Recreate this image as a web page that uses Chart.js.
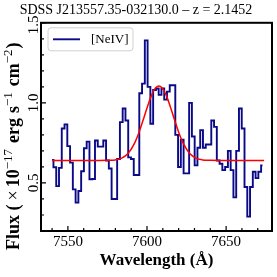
<!DOCTYPE html>
<html>
<head>
<meta charset="utf-8">
<script src="https://cdn.jsdelivr.net/npm/chart.js@4.4.0/dist/chart.umd.min.js"></script>
<style>
  html, body { margin: 0; padding: 0; background: #fff; }
  #wrap { width: 277px; height: 277px; }
</style>
</head>
<body>
<div id="wrap"><canvas id="myChart" width="277" height="277"></canvas></div>
<script>
// spectrum bins (Angstrom) and flux (1e-17 erg/s/cm2)
const wavelength = [
  7540.00, 7541.75, 7543.50, 7545.25, 7547.00, 7548.75, 7550.50, 7552.25, 7554.00, 7555.75,
  7557.50, 7559.25, 7561.00, 7562.75, 7564.50, 7566.25, 7568.00, 7569.75, 7571.50, 7573.25,
  7575.00, 7576.75, 7578.50, 7580.25, 7582.00, 7583.75, 7585.50, 7587.25, 7589.00, 7590.75,
  7592.50, 7594.25, 7596.00, 7597.75, 7599.50, 7601.25, 7603.00, 7604.75, 7606.50, 7608.25,
  7610.00, 7611.75, 7613.50, 7615.25, 7617.00, 7618.75, 7620.50, 7622.25, 7624.00, 7625.75,
  7627.50, 7629.25, 7631.00, 7632.75, 7634.50, 7636.25, 7638.00, 7639.75, 7641.50, 7643.25,
  7645.00, 7646.75, 7648.50, 7650.25, 7652.00, 7653.75, 7655.50, 7657.25, 7659.00, 7660.75,
  7662.50, 7664.25, 7666.00, 7667.75, 7669.50, 7671.25, 7673.00
];
const flux = [
  0.644, 0.598, 0.48, 0.594, 0.84, 0.866, 0.73, 0.627, 0.46, 0.377,
  0.45, 0.573, 0.717, 0.758, 0.523, 0.525, 0.765, 0.727, 0.727, 0.765,
  0.64, 0.59, 0.40, 0.40, 0.65, 0.88, 0.965, 0.89, 0.66, 0.65,
  0.55, 0.55, 1.06, 1.12, 1.39, 1.10, 0.87, 1.08, 1.09, 1.05,
  1.09, 1.02, 1.07, 1.11, 1.11, 0.80, 0.60, 0.77, 0.56, 0.56,
  1.00, 0.79, 0.61, 0.72, 0.83, 0.72, 0.74, 0.74, 0.89, 0.85,
  0.64, 0.62, 0.58, 0.60, 0.70, 0.58, 0.41, 0.70, 0.965, 0.84,
  0.475, 0.29, 0.475, 0.57, 0.53, 0.57, 0.61
];

// gaussian fit curve
const fitWave = [7540, 7560, 7570, 7575, 7580, 7584, 7588, 7592, 7595, 7598, 7601, 7602.5, 7604, 7605.5,
  7607.5, 7609.5, 7611, 7612.5, 7614, 7617, 7620, 7623, 7627, 7631, 7635, 7640, 7650, 7674];
const fitFlux = [0.640, 0.640, 0.640, 0.641, 0.644, 0.655, 0.684, 0.746, 0.817, 0.906, 0.998, 1.039, 1.071, 1.094,
  1.105, 1.094, 1.071, 1.039, 0.998, 0.906, 0.817, 0.746, 0.684, 0.655, 0.644, 0.641, 0.640, 0.640];

const xTickLabels = [7550, 7600, 7650];
const yTickLabels = ['0.5', '1.0', '1.5'];

const serif = "'Liberation Serif', 'Times New Roman', serif";
Chart.defaults.font.family = serif;
Chart.defaults.color = '#000';

const isLabelled = (list, v) => list.some(t => Math.abs(Number(t) - v) < 1e-6);

// y axis title with raised exponents, like mathtext
const yTitle = {
  id: 'yTitle',
  afterDraw(chart) {
    const { ctx } = chart;
    const big = 'bold 18px ' + serif;
    const sup = '13px ' + serif;
    const parts = [
      ['Flux (', big, 0], ['\u00d7', '18px ' + serif, 0], ['10', big, 0], ['\u221217', sup, -7],
      ['erg', big, 0], ['s', big, 0], ['\u22121', sup, -7], ['cm', big, 0], ['\u22122', sup, -7], [')', big, 0]
    ];
    const gaps = [0, 4, 3, 0, 6, 5, 0, 6, 0, 1];
    ctx.save();
    ctx.fillStyle = '#000';
    ctx.textBaseline = 'alphabetic';
    ctx.textAlign = 'left';
    ctx.translate(19, 250);
    ctx.rotate(-Math.PI / 2);
    let pos = 0;
    parts.forEach(([txt, font, dy], i) => {
      ctx.font = font;
      pos += gaps[i];
      ctx.fillText(txt, pos, dy);
      pos += ctx.measureText(txt).width;
    });
    ctx.restore();
  }
};

// matplotlib-ish frame with inward ticks, rotated y labels
const frameTicks = {
  id: 'frameTicks',
  afterDraw(chart) {
    const { ctx, chartArea: a, scales: { x, y } } = chart;
    ctx.save();
    ctx.strokeStyle = '#000';
    ctx.lineWidth = 1.2;
    ctx.beginPath();
    x.ticks.forEach(t => {
      const px = x.getPixelForValue(t.value);
      const len = isLabelled(xTickLabels, t.value) ? 5 : 3;
      ctx.moveTo(px, a.bottom);
      ctx.lineTo(px, a.bottom - len);
    });
    y.ticks.forEach(t => {
      const py = y.getPixelForValue(t.value);
      const len = isLabelled(yTickLabels, t.value) ? 5 : 3;
      ctx.moveTo(a.left, py);
      ctx.lineTo(a.left + len, py);
    });
    ctx.stroke();
    ctx.lineWidth = 2;
    ctx.strokeRect(a.left, a.top, a.right - a.left, a.bottom - a.top);

    ctx.fillStyle = '#000';
    ctx.font = '15px ' + serif;
    ctx.textAlign = 'center';
    ctx.textBaseline = 'middle';
    yTickLabels.forEach(lbl => {
      const py = y.getPixelForValue(Number(lbl));
      ctx.save();
      ctx.translate(a.left - 7, py + (lbl === '1.5' ? 2 : 0));
      ctx.rotate(-Math.PI / 2);
      ctx.fillText(lbl, 0, 0);
      ctx.restore();
    });
    ctx.restore();
  }
};

// legend box in the upper left corner of the plot
const innerLegend = {
  id: 'innerLegend',
  afterDraw(chart) {
    const { ctx, chartArea: a } = chart;
    const ds = chart.data.datasets[0];
    const bx = a.left + 7, by = a.top + 5, bw = 85, bh = 23;
    ctx.save();
    ctx.beginPath();
    ctx.roundRect(bx, by, bw, bh, 3);
    ctx.fillStyle = 'rgba(255,255,255,0.8)';
    ctx.fill();
    ctx.strokeStyle = '#d0d0d0';
    ctx.lineWidth = 1;
    ctx.stroke();
    ctx.beginPath();
    ctx.moveTo(bx + 5, by + 11.5);
    ctx.lineTo(bx + 32, by + 11.5);
    ctx.strokeStyle = ds.borderColor;
    ctx.lineWidth = ds.borderWidth;
    ctx.stroke();
    ctx.fillStyle = '#000';
    ctx.font = '13px ' + serif;
    ctx.textBaseline = 'middle';
    ctx.fillText(ds.label, bx + 43, by + 12);
    ctx.restore();
  }
};

const ctx = document.getElementById('myChart').getContext('2d');
new Chart(ctx, {
  type: 'line',
  data: {
    datasets: [
      {
        label: '[NeIV]',
        data: wavelength.map((w, i) => ({ x: w, y: flux[i] })),
        borderColor: '#0a0a88',
        borderWidth: 1.9,
        stepped: 'middle',
        pointRadius: 0,
        fill: false,
        order: 2
      },
      {
        label: 'fit',
        data: fitWave.map((w, i) => ({ x: w, y: fitFlux[i] })),
        borderColor: '#ff0000',
        borderWidth: 1.5,
        cubicInterpolationMode: 'monotone',
        pointRadius: 0,
        fill: false,
        order: 1
      }
    ]
  },
  options: {
    responsive: false,
    animation: false,
    devicePixelRatio: 1,
    layout: { padding: { top: 0, right: 5, bottom: 0, left: 0 } },
    plugins: {
      legend: { display: false },
      tooltip: { enabled: false },
      title: {
        display: true,
        text: 'SDSS J213557.35-032130.0 \u2013 z = 2.1452',
        font: { size: 14, weight: 'normal', family: serif },
        color: '#000',
        padding: { top: 2, bottom: 4 }
      }
    },
    scales: {
      x: {
        type: 'linear',
        min: 7533,
        max: 7679,
        grid: { display: false, drawTicks: false },
        border: { display: false },
        ticks: {
          stepSize: 10,
          includeBounds: false,
          autoSkip: false,
          maxRotation: 0,
          padding: 2,
          font: { size: 15, family: serif },
          color: '#000',
          callback: v => (isLabelled(xTickLabels, v) ? String(v) : '')
        },
        title: {
          display: true,
          text: 'Wavelength (\u00c5)',
          font: { size: 17, weight: 'bold', family: serif },
          color: '#000',
          padding: { top: 0, bottom: 6 }
        },
        afterFit: s => { s.height = 46; s.paddingLeft = 0; s.paddingRight = 0; }
      },
      y: {
        type: 'linear',
        min: 0.2,
        max: 1.5,
        grid: { display: false, drawTicks: false },
        border: { display: false },
        ticks: { stepSize: 0.1, autoSkip: false, display: false },
        title: { display: false },
        afterFit: s => { s.width = 41; s.paddingTop = 0; s.paddingBottom = 0; }
      }
    }
  },
  plugins: [yTitle, frameTicks, innerLegend]
});
</script>
</body>
</html>
